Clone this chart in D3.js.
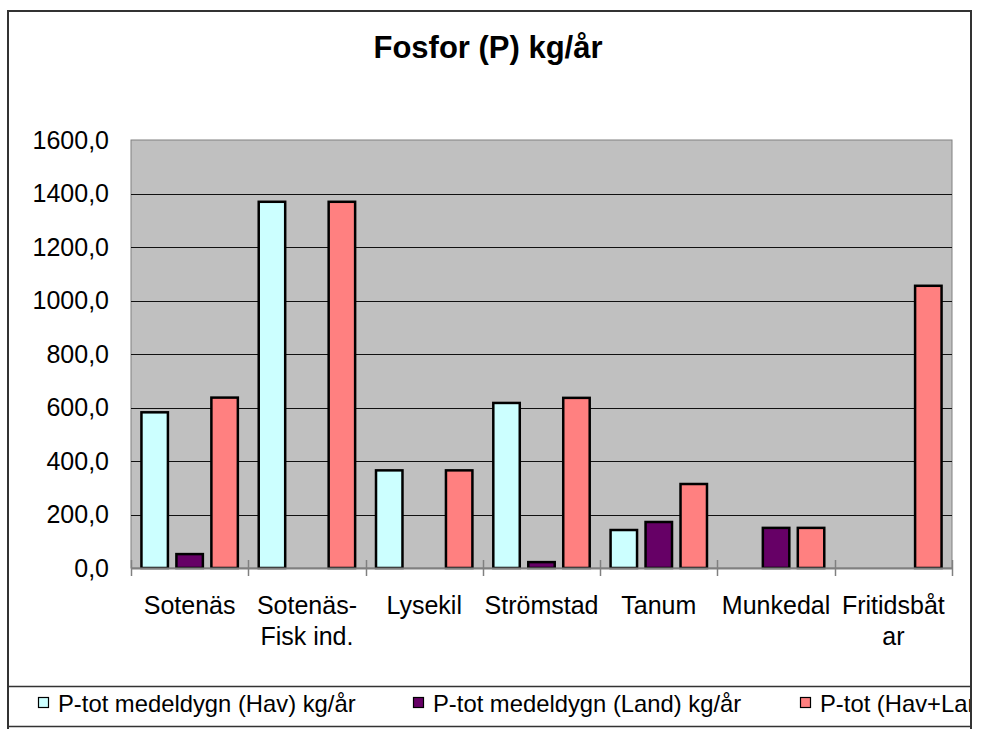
<!DOCTYPE html>
<html>
<head>
<meta charset="utf-8">
<title>Fosfor (P) kg/år</title>
<script src="https://cdn.jsdelivr.net/npm/d3@7"></script>
<style>
  body { margin: 0; background: #fff; }
  svg text { font-family: "Liberation Sans", Arial, sans-serif; fill: #000; }
</style>
</head>
<body>
<script>
// data
var categories = ["Sotenäs", "Sotenäs-\nFisk ind.", "Lysekil", "Strömstad", "Tanum", "Munkedal", "Fritidsbåt\nar"];
var seriesNames = ["P-tot medeldygn (Hav) kg/år", "P-tot medeldygn (Land) kg/år", "P-tot (Hav+Land) kg/år"];
var havValues   = [582, 1369, 365, 617, 142, 0, 0];
var landValues  = [52, 0, 0, 22, 172, 150, 0];
var totalValues = [637, 1369, 365, 636, 314, 150, 1055];
var yTicks = [0, 200, 400, 600, 800, 1000, 1200, 1400, 1600];
var seriesColors = ["#CCFFFF", "#660066", "#FF8080"];

var W = 983, H = 729;
var plot = { left: 131, right: 952, top: 140, bottom: 568 };

var svg = d3.select("body").append("svg")
    .attr("width", W)
    .attr("height", H);

// clip everything to the chart frame like the cut-off original
svg.append("clipPath").attr("id", "frame")
  .append("rect").attr("x", 8).attr("y", 11).attr("width", 963).attr("height", H);

var g = svg.append("g").attr("clip-path", "url(#frame)");

var x = d3.scaleBand()
    .domain(categories)
    .range([plot.left, plot.right])
    .padding(0);

var xInner = d3.scaleBand()
    .domain([0, 1, 2])
    .range([0, x.bandwidth()])
    .paddingInner(0.186)
    .paddingOuter(0.27);

var y = d3.scaleLinear()
    .domain([0, 1600])
    .range([plot.bottom, plot.top]);

// title
g.append("text")
    .attr("x", 488)
    .attr("y", 58)
    .attr("text-anchor", "middle")
    .style("font-size", "31px")
    .style("font-weight", "bold")
    .text("Fosfor (P) kg/år");

// plot background
g.append("rect")
    .attr("x", plot.left)
    .attr("y", plot.top)
    .attr("width", plot.right - plot.left)
    .attr("height", plot.bottom - plot.top)
    .attr("fill", "#C0C0C0")
    .attr("stroke", "#808080")
    .attr("stroke-width", 1);

// gridlines
g.selectAll(".grid")
    .data(yTicks.filter(function(d) { return d > 0 && d < 1600; }))
    .enter().append("line")
    .attr("x1", plot.left)
    .attr("x2", plot.right)
    .attr("y1", function(d) { return Math.round(y(d)) + 0.5; })
    .attr("y2", function(d) { return Math.round(y(d)) + 0.5; })
    .attr("stroke", "#111")
    .attr("stroke-width", 1);

// y axis labels
var yAxis = d3.axisLeft(y)
    .tickValues(yTicks)
    .tickSize(0)
    .tickPadding(22)
    .tickFormat(function(d) { return d3.format(".1f")(d).replace(".", ","); });

var yg = g.append("g")
    .attr("transform", "translate(" + plot.left + ",0)")
    .call(yAxis);
yg.select(".domain").remove();
yg.selectAll("text")
    .style("font-size", "25px")
    .attr("font-family", null);

// bars
var rows = categories.map(function(c, i) {
  return { cat: c, vals: [havValues[i], landValues[i], totalValues[i]] };
});

var groups = g.selectAll(".cat")
    .data(rows)
    .enter().append("g")
    .attr("transform", function(d) { return "translate(" + x(d.cat) + ",0)"; });

groups.selectAll("rect")
    .data(function(d) {
      return d.vals.map(function(v, s) { return { s: s, v: v }; }).filter(function(e) { return e.v > 0; });
    })
    .enter().append("rect")
    .attr("x", function(d) { return xInner(d.s) + 1; })
    .attr("width", xInner.bandwidth() - 2)
    .attr("y", function(d) { return y(d.v); })
    .attr("height", function(d) { return y(0) - y(d.v); })
    .attr("fill", function(d) { return seriesColors[d.s]; })
    .attr("stroke", "#000")
    .attr("stroke-width", 2.5);

// x axis line with crossing ticks
var xAxis = d3.axisBottom(x).tickSize(0).tickFormat("");
g.append("g")
    .attr("transform", "translate(0," + plot.bottom + ")")
    .call(xAxis)
    .select(".domain")
    .attr("stroke", "#808080")
    .attr("stroke-width", 2);

var tickPos = categories.map(function(c) { return x(c); }).concat([plot.right]);
g.selectAll(".xtick")
    .data(tickPos)
    .enter().append("line")
    .attr("x1", function(d) { return Math.round(d) + 0.5; })
    .attr("x2", function(d) { return Math.round(d) + 0.5; })
    .attr("y1", plot.bottom - 8)
    .attr("y2", plot.bottom + 8)
    .attr("stroke", "#808080")
    .attr("stroke-width", 1.5);

// x labels (two lines where the original wraps)
var xl = g.selectAll(".xlabel")
    .data(categories)
    .enter().append("text")
    .attr("text-anchor", "middle")
    .style("font-size", "25px")
    .attr("transform", function(d) { return "translate(" + (x(d) + x.bandwidth() / 2) + ",614)"; });

xl.selectAll("tspan")
    .data(function(d) { return d.split("\n"); })
    .enter().append("tspan")
    .attr("x", 0)
    .attr("dy", function(d, i) { return i === 0 ? 0 : 31; })
    .text(function(d) { return d; });

// legend
var legendX = [38, 413, 800];
g.append("line").attr("x1", 8).attr("x2", W).attr("y1", 686.5).attr("y2", 686.5)
    .attr("stroke", "#333").attr("stroke-width", 1.5);
g.append("line").attr("x1", 8).attr("x2", W).attr("y1", 726.5).attr("y2", 726.5)
    .attr("stroke", "#333").attr("stroke-width", 1.5);

var leg = g.selectAll(".legend")
    .data(seriesNames)
    .enter().append("g")
    .attr("transform", function(d, i) { return "translate(" + legendX[i] + ",0)"; });

leg.append("rect")
    .attr("x", 0.5)
    .attr("y", 697.5)
    .attr("width", 10)
    .attr("height", 10)
    .attr("fill", function(d, i) { return seriesColors[i]; })
    .attr("stroke", "#000")
    .attr("stroke-width", 1.2);

leg.append("text")
    .attr("x", 20)
    .attr("y", 712)
    .style("font-size", "23.8px")
    .text(function(d) { return d; });

// outer frame
svg.append("rect")
    .attr("x", 8)
    .attr("y", 11)
    .attr("width", 963)
    .attr("height", H)
    .attr("fill", "none")
    .attr("stroke", "#333")
    .attr("stroke-width", 2);
</script>
</body>
</html>
